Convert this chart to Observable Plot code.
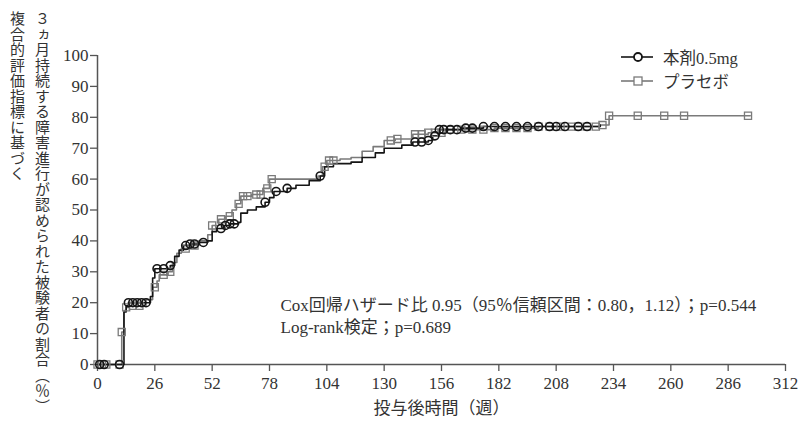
<!DOCTYPE html>
<html><head><meta charset="utf-8">
<script src="https://cdn.jsdelivr.net/npm/d3@7"></script>
<script src="https://cdn.jsdelivr.net/npm/@observablehq/plot@0.6"></script>
<style>
body{margin:0;background:#fff;}
#wrap{position:relative;width:807px;height:421px;overflow:hidden;}
.vl{position:absolute;writing-mode:vertical-rl;font-family:"Noto Sans CJK JP";font-size:15px;letter-spacing:0.5px;color:#333;line-height:1;white-space:nowrap;}
.lg{position:absolute;left:620px;font-family:"Liberation Serif","Noto Sans CJK JP";font-size:16.5px;color:#333;display:flex;align-items:center;height:18px;}
.lg svg{margin-right:9px;}
</style></head><body><div id="wrap"></div>
<script>
// ---- data (week, cumulative % with progression) ----
const drugTimes = [0,11,12,13,14,22,24,25,26,33,35,37,39,42,46,50,52,54,57,60,64,65,68,72,76,78,80,86,90,96,101,103,107,115,120,126,130,138,143,150,152,155,165,175,228];
const drugPct   = [0,0,17,19,20,20,22,28,31,32,35,37,38.5,39,39.5,40,43,44,45,45.5,46,49,50,51,52.5,54,56,57,58,59.5,61,64,65,65.5,67,68.5,70,71,72,72.5,74,76,76.5,77,77.5];
const drugCensor = [1,3,10,14,16,18,20,22,27,30,33,40,42,44,48,56,58,60,62,76,81,86,101,144,147,150,153,155,157,160,163,167,170,175,180,185,190,195,200,205,208,212,218,222];

const placeboTimes = [0,10,11,12,13,14,20,22,25,27,28,32,34,36,38,42,46,50,52,55,58,61,63,65,70,75,78,100,102,104,110,115,120,125,130,135,143,150,158,180,200,228,232,296];
const placeboPct   = [0,0,10.5,17.5,18.5,19,19,21,25,27,29,30,33,36,37.5,38.5,40,42,45,47,48,50,52,54.5,55,57,60,61,64,66,66.5,67,69,70.5,72.5,73,74.5,75,76,76.5,77,77.5,80.5,80.5];
const placeboCensor = [0,2,4,10,11,13,16,19,26,30,33,40,44,52,56,60,64,66,68,72,74,77,79,103,105,107,133,136,144,147,150,153,156,160,165,170,175,180,185,190,195,200,205,210,215,218,222,226,229,232,245,257,266,295];

const xTicks = [0,26,52,78,104,130,156,182,208,234,260,286,312];
const yTicks = [0,10,20,30,40,50,60,70,80,90,100];

const seriesNames = ["本剤0.5mg","プラセボ"];
const xTitle = "投与後時間（週）";
const yTitle1 = "３ヵ月持続する障害進行が認められた被験者の割合（％）";
const yTitle2 = "複合的評価指標に基づく";
const noteLines = ["Cox回帰ハザード比 0.95（95％信頼区間：0.80，1.12）；p=0.544","Log-rank検定；p=0.689"];
const notePos = [{t:83, p:19}, {t:83, p:12}];

// ---- build tables ----
const drug = drugTimes.map((t,i)=>({t, p:drugPct[i]}));
const placebo = placeboTimes.map((t,i)=>({t, p:placeboPct[i]}));
function stepAt(series, t){ let v = series[0].p; for(const d of series){ if(d.t<=t) v=d.p; else break; } return v; }
const drugC = drugCensor.map(t=>({t, p:stepAt(drug,t)}));
const placeboC = placeboCensor.map(t=>({t, p:stepAt(placebo,t)}));
const notes = noteLines.map((s,i)=>({s, ...notePos[i]}));

const cDrug = "#151515", cPla = "#7a7a7a", axC = "#555";

const chart = Plot.plot({
  width:807, height:421, marginLeft:97, marginRight:22, marginTop:55, marginBottom:57,
  style:{fontFamily:"'Liberation Serif','Noto Sans CJK JP'", fontSize:"17px", color:"#333", background:"white"},
  x:{domain:[0,312]},
  y:{domain:[0,100]},
  marks:[
    Plot.axisX({ticks:xTicks, tickSize:7, tickPadding:5, stroke:axC, strokeWidth:1.3, fontSize:17, label:xTitle, labelAnchor:"center", labelArrow:"none", labelOffset:49}),
    Plot.axisY({ticks:yTicks, tickSize:7, tickPadding:2, stroke:axC, strokeWidth:1.3, fontSize:17, label:null}),
    Plot.ruleY([0], {stroke:axC, strokeWidth:1.5}),
    Plot.ruleX([0], {stroke:axC, strokeWidth:1.5}),
    Plot.line(placebo, {x:"t", y:"p", curve:"step-after", stroke:cPla, strokeWidth:1.6}),
    Plot.line(drug, {x:"t", y:"p", curve:"step-after", stroke:cDrug, strokeWidth:1.6}),
    Plot.dot(placeboC, {x:"t", y:"p", symbol:"square", r:4, stroke:cPla, strokeWidth:1.3, fill:"none"}),
    Plot.dot(drugC, {x:"t", y:"p", symbol:"circle", r:4, stroke:cDrug, strokeWidth:1.6, fill:"none"}),
    Plot.text(notes, {x:"t", y:"p", text:"s", textAnchor:"start", fontSize:17, fill:"#333"})
  ]
});
const wrap = document.getElementById("wrap");
wrap.appendChild(chart);

// y title (vertical)
const v1 = document.createElement("div"); v1.className="vl"; v1.textContent=yTitle1; v1.style.left="35px"; v1.style.top="11px"; wrap.appendChild(v1);
const v2 = document.createElement("div"); v2.className="vl"; v2.textContent=yTitle2; v2.style.left="10px"; v2.style.top="11px"; wrap.appendChild(v2);

// legend
function legendRow(name, color, sym, top){
  const d = document.createElement("div"); d.className="lg"; d.style.top=top+"px";
  const mk = sym==="circle"
    ? `<circle cx="18" cy="9" r="4" fill="white" stroke="${color}" stroke-width="1.8"/>`
    : `<rect x="14" y="5" width="8" height="8" fill="white" stroke="${color}" stroke-width="1.3"/>`;
  d.innerHTML = `<svg width="34" height="18"><line x1="1" y1="9" x2="33" y2="9" stroke="${color}" stroke-width="1.6"/>${mk}</svg><span>${name}</span>`;
  wrap.appendChild(d);
}
legendRow(seriesNames[0], cDrug, "circle", 48);
legendRow(seriesNames[1], cPla, "square", 72);
</script></body></html>
